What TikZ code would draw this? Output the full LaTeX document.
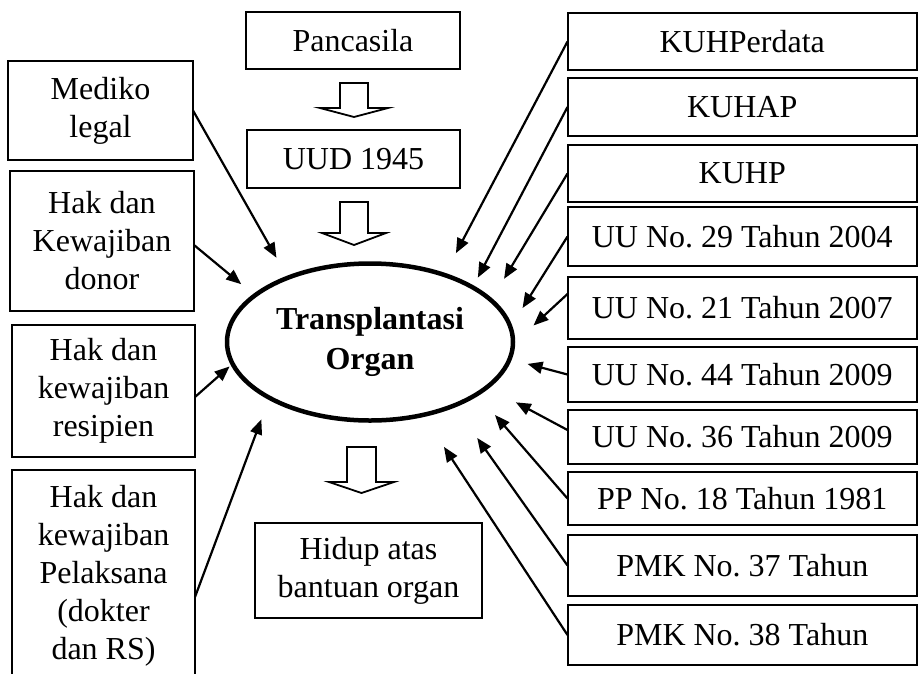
\documentclass[tikz,border=0pt]{standalone}
\usepackage{fontspec}
\setmainfont{Liberation Serif}
\usetikzlibrary{arrows.meta,calc,shapes.geometric}
\frenchspacing

\tikzset{
  box/.style={draw, line width=2pt, align=center, inner sep=0pt, outer sep=0pt},
  lawbox/.style={box, minimum width=349.5pt},
  organ/.style={draw, ellipse, line width=4.5pt, align=center, inner sep=0pt, outer sep=0pt,
    minimum width=286pt, minimum height=157pt, font=\fontsize{32}{40}\selectfont\bfseries},
  link/.style={-{Triangle[length=15pt,width=12pt]}, line width=2.2pt},
  hollow/.style={draw, line width=1.8pt, line join=miter},
}

\begin{document}
\begin{tikzpicture}[x=1pt,y=1pt,yscale=-1,font=\fontsize{32}{38}\selectfont]
\clip (0,0) rectangle (918,673);

%Centre
\node[organ] (organ) at (370,342) {Transplantasi\\Organ};

%Top chain
\node[box, minimum width=214pt, minimum height=57pt] (pancasila) at (353,40.5) {Pancasila};
\node[box, minimum width=213pt, minimum height=58pt] (uud) at (353.5,159) {UUD 1945};
\node[box, minimum width=227pt, minimum height=95pt] (hidup) at (368.5,570.5) {Hidup atas\\bantuan organ};

%Left boxes
\node[box, minimum width=185pt, minimum height=99pt] (mediko) at (100.5,110.5) {Mediko\\legal};
\node[box, minimum width=184pt, minimum height=140pt] (donor) at (102,241) {Hak dan\\Kewajiban\\donor};
\node[box, minimum width=183pt, minimum height=132pt] (resipien) at (103.5,391) {Hak dan\\kewajiban\\resipien};
\node[box, minimum width=183pt, minimum height=212pt] (pelaksana) at (103.5,576) {Hak dan\\kewajiban\\Pelaksana\\(dokter\\dan RS)};

%Right boxes
\node[lawbox, minimum height=57pt] (kuhperdata) at (742.25,41.5) {KUHPerdata};
\node[lawbox, minimum height=58pt] (kuhap) at (742.25,107) {KUHAP};
\node[lawbox, minimum height=57pt] (kuhp) at (742.25,173.5) {KUHP};
\node[lawbox, minimum height=59pt] (uu29) at (742.25,236.5) {UU No. 29 Tahun 2004};
\node[lawbox, minimum height=62pt] (uu21) at (742.25,308) {UU No. 21 Tahun 2007};
\node[lawbox, minimum height=55pt] (uu44) at (742.25,374.5) {UU No. 44 Tahun 2009};
\node[lawbox, minimum height=54pt] (uu36) at (742.25,437) {UU No. 36 Tahun 2009};
\node[lawbox, minimum height=53pt] (pp18) at (742.25,498.5) {PP No. 18 Tahun 1981};
\node[lawbox, minimum height=61pt] (pmk37) at (742.25,565.5) {PMK No. 37 Tahun};
\node[lawbox, minimum height=60pt] (pmk38) at (742.25,635) {PMK No. 38 Tahun};

%Hollow arrows
\draw[hollow] ($(pancasila.south)+(-13,14)$) -- ++(0,25) -- ++(-20,0) -- ++(34,9) -- ++(34,-9) -- ++(-20,0) -- ++(0,-25) -- cycle;
\draw[hollow] ($(uud.south)+(-13.5,14)$) -- ++(0,31) -- ++(-18,0) -- ++(32,12) -- ++(32,-12) -- ++(-18,0) -- ++(0,-31) -- cycle;
\draw[hollow] ($(organ.south)+(-23,26.5)$) -- ++(0,35) -- ++(-18,0) -- ++(32.5,11) -- ++(32.5,-11) -- ++(-18,0) -- ++(0,-35) -- cycle;

%Left arrows
\draw[link, shorten >=23pt] (mediko.east) -- (organ.142.7);
\draw[link, shorten >=17.7pt] ($(donor.east)+(0,4)$) -- (organ.158.7);
\draw[link, shorten >=4pt] ($(resipien.east)+(0,6)$) -- (organ.189.3);
\draw[link, shorten >=23pt] ($(pelaksana.east)+(0,21)$) -- (organ.209.4);

%Right arrows
\draw[link, shorten >=24.6pt] (kuhperdata.west) -- (organ.42.6);
\draw[link, shorten >=11pt] (kuhap.west) -- (organ.28.4);
\draw[link, shorten >=25pt] (kuhp.west) -- (organ.19.6);
\draw[link, shorten >=22.7pt] (uu29.west) -- (organ.6.9);
\draw[link, shorten >=28pt] ($(uu21.west)+(0,-14)$) -- (organ.-1.8);
\draw[link, shorten >=18.6pt] (uu44.west) -- (organ.-7.7);
\draw[link, shorten >=32.5pt] ($(uu36.west)+(0,-7)$) -- (organ.-21.6);
\draw[link, shorten >=27.6pt] (pp18.west) -- (organ.-26);
\draw[link, shorten >=39.8pt] (pmk37.west) -- (organ.-37.1);
\draw[link, shorten >=38.2pt] (pmk38.west) -- (organ.-54.6);

\end{tikzpicture}
\end{document}
